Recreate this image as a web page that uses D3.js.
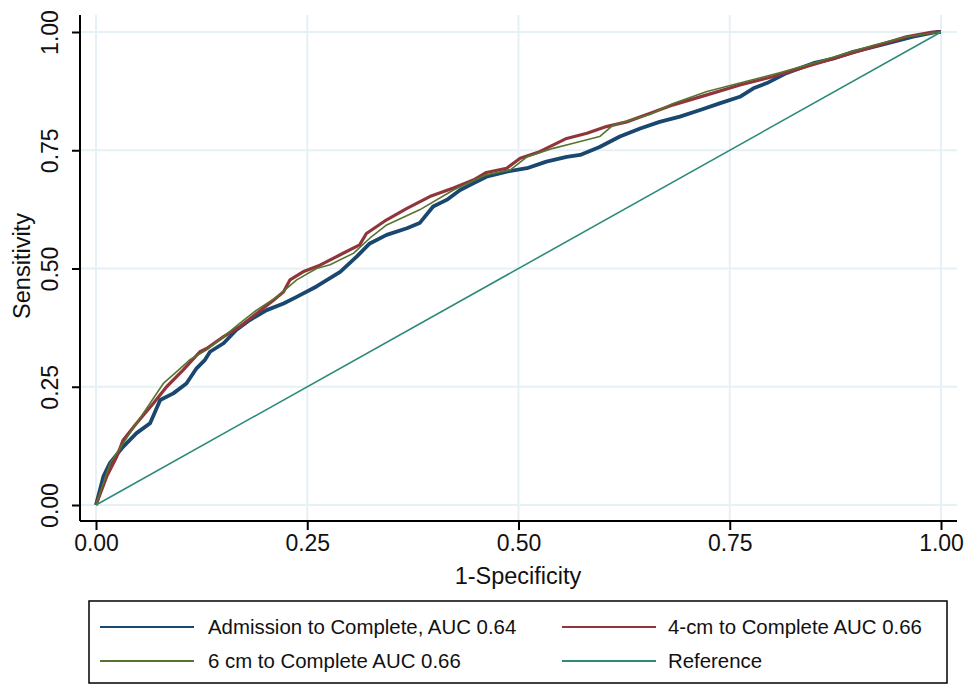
<!DOCTYPE html>
<html>
<head>
<meta charset="utf-8">
<script src="https://cdn.jsdelivr.net/npm/d3@7"></script>
<style>
  html, body { margin: 0; padding: 0; background: #fff; }
  svg { display: block; font-family: "Liberation Sans", Arial, sans-serif; }
  .grid line { stroke: #e7f0f4; stroke-width: 2; }
  .axis path, .axis line { stroke: #000; stroke-width: 2; }
  .axis text { font-size: 23px; fill: #111; }
  .title { font-size: 23.5px; fill: #111; }
  .legend text { font-size: 20.4px; fill: #111; }
</style>
</head>
<body>
<svg id="chart" width="975" height="684"></svg>
<script>
// ROC curves: [1-specificity, sensitivity]
const admission = [
  [0, 0], [0.0087, 0.06], [0.0166, 0.089], [0.032, 0.123], [0.048, 0.152],
  [0.064, 0.173], [0.076, 0.222], [0.0915, 0.236], [0.107, 0.257], [0.119, 0.289],
  [0.129, 0.307], [0.135, 0.324], [0.151, 0.342], [0.166, 0.37], [0.182, 0.391],
  [0.202, 0.412], [0.222, 0.426], [0.2375, 0.44], [0.261, 0.462], [0.289, 0.493],
  [0.3085, 0.525], [0.324, 0.553], [0.344, 0.571], [0.368, 0.585], [0.383, 0.596],
  [0.399, 0.631], [0.415, 0.645], [0.431, 0.666], [0.4465, 0.68], [0.462, 0.694],
  [0.486, 0.705], [0.51, 0.712], [0.533, 0.726], [0.557, 0.736], [0.573, 0.74],
  [0.596, 0.757], [0.62, 0.779], [0.644, 0.796], [0.667, 0.81], [0.691, 0.821],
  [0.715, 0.835], [0.738, 0.849], [0.762, 0.863], [0.778, 0.881], [0.794, 0.892],
  [0.817, 0.913], [0.849, 0.934], [0.873, 0.944], [0.896, 0.958], [0.928, 0.972],
  [0.967, 0.99], [0.995, 1.0], [1, 1]
];
const fourCm = [
  [0, 0], [0.0126, 0.06], [0.0245, 0.102], [0.032, 0.137], [0.048, 0.173],
  [0.068, 0.215], [0.0836, 0.25], [0.103, 0.285], [0.123, 0.324], [0.131, 0.331],
  [0.151, 0.356], [0.17, 0.377], [0.19, 0.405], [0.21, 0.433], [0.222, 0.451],
  [0.2296, 0.476], [0.245, 0.493], [0.265, 0.507], [0.289, 0.529], [0.312, 0.55],
  [0.32, 0.574], [0.344, 0.603], [0.368, 0.627], [0.395, 0.652], [0.423, 0.67],
  [0.4465, 0.687], [0.462, 0.703], [0.486, 0.712], [0.502, 0.733], [0.525, 0.747],
  [0.557, 0.775], [0.581, 0.786], [0.604, 0.8], [0.628, 0.81], [0.656, 0.828],
  [0.683, 0.846], [0.723, 0.867], [0.762, 0.888], [0.8015, 0.906], [0.841, 0.927],
  [0.88, 0.948], [0.92, 0.969], [0.959, 0.99], [0.99, 1.0], [1, 1]
];
const sixCm = [
  [0, 0], [0.0166, 0.088], [0.032, 0.13], [0.048, 0.173], [0.064, 0.215],
  [0.0797, 0.257], [0.0955, 0.282], [0.111, 0.307], [0.131, 0.328], [0.151, 0.356],
  [0.17, 0.384], [0.19, 0.412], [0.214, 0.44], [0.2375, 0.476], [0.261, 0.5],
  [0.277, 0.508], [0.3045, 0.532], [0.324, 0.564], [0.344, 0.592], [0.383, 0.624],
  [0.423, 0.666], [0.462, 0.698], [0.49, 0.708], [0.51, 0.736], [0.541, 0.754],
  [0.565, 0.765], [0.596, 0.779], [0.612, 0.803], [0.656, 0.826], [0.683, 0.849],
  [0.723, 0.874], [0.762, 0.892], [0.809, 0.914], [0.841, 0.93], [0.88, 0.951],
  [0.92, 0.972], [0.959, 0.99], [1, 1]
];
const reference = [[0, 0], [1, 1]];

const ticks = [0, 0.25, 0.5, 0.75, 1];
const tickLabels = ["0.00", "0.25", "0.50", "0.75", "1.00"];

const series = [
  { name: "Admission to Complete, AUC 0.64", data: admission, color: "#1a476f", width: 3.8 },
  { name: "4-cm to Complete AUC 0.66", data: fourCm, color: "#90353b", width: 3.2 },
  { name: "6 cm to Complete AUC 0.66", data: sixCm, color: "#55752f", width: 1.6 },
  { name: "Reference", data: reference, color: "#2e8b7a", width: 1.6 }
];

(function () {
  const svg = d3.select("#chart");

  // plot region (axes frame) and data range inside it
  const frame = { left: 80, right: 957, top: 15, bottom: 521 };
  const x = d3.scaleLinear().domain([0, 1]).range([96, 941]);
  const y = d3.scaleLinear().domain([0, 1]).range([505, 32]);

  // --- Grid ----------------------------------------------------------
  const grid = svg.append("g").attr("class", "grid");
  grid.selectAll("line.h").data(ticks).enter().append("line")
    .attr("class", "h")
    .attr("x1", frame.left).attr("x2", frame.right)
    .attr("y1", (d) => y(d)).attr("y2", (d) => y(d));
  grid.selectAll("line.v").data(ticks).enter().append("line")
    .attr("class", "v")
    .attr("y1", frame.top).attr("y2", frame.bottom)
    .attr("x1", (d) => x(d)).attr("x2", (d) => x(d));

  // --- Curves --------------------------------------------------------
  const line = d3.line().x((d) => x(d[0])).y((d) => y(d[1]));
  svg.append("g").selectAll("path").data(series).enter().append("path")
    .attr("d", (d) => line(d.data))
    .attr("fill", "none")
    .attr("stroke", (d) => d.color)
    .attr("stroke-width", (d) => d.width)
    .attr("stroke-linejoin", "round");

  // --- Axes ----------------------------------------------------------
  const fmt = (d) => tickLabels[ticks.indexOf(d)];
  const yAxis = svg.append("g").attr("class", "axis")
    .attr("transform", `translate(${frame.left},0)`)
    .call(d3.axisLeft(y).tickValues(ticks).tickFormat(fmt).tickSize(8).tickSizeOuter(0));
  yAxis.select(".domain").attr("d", `M0,${frame.top}V${frame.bottom}`);
  yAxis.selectAll(".tick text")
    .attr("transform", "rotate(-90)")
    .attr("x", 0).attr("y", -22)
    .attr("dy", 0)
    .attr("text-anchor", "middle");

  const xAxis = svg.append("g").attr("class", "axis")
    .attr("transform", `translate(0,${frame.bottom})`)
    .call(d3.axisBottom(x).tickValues(ticks).tickFormat(fmt).tickSize(9).tickSizeOuter(0));
  xAxis.select(".domain").attr("d", `M${frame.left},0H${frame.right}`);
  xAxis.selectAll(".tick text").attr("y", 14).attr("dy", "0.71em");

  svg.append("text").attr("class", "title")
    .attr("x", 518).attr("y", 584)
    .attr("text-anchor", "middle")
    .text("1-Specificity");
  svg.append("text").attr("class", "title")
    .attr("transform", "translate(30,266) rotate(-90)")
    .attr("text-anchor", "middle")
    .text("Sensitivity");

  // --- Legend --------------------------------------------------------
  const legend = svg.append("g").attr("class", "legend");
  legend.append("rect")
    .attr("x", 89).attr("y", 601).attr("width", 858).attr("height", 82)
    .attr("fill", "#fff").attr("stroke", "#000").attr("stroke-width", 1.5);
  const cols = [100, 562];
  const rows = [627, 661];
  const items = legend.selectAll("g.item").data(series).enter().append("g")
    .attr("class", "item")
    .attr("transform", (d, i) => `translate(${cols[i % 2]},${rows[Math.floor(i / 2)]})`);
  items.append("line")
    .attr("x1", 0).attr("x2", 94)
    .attr("stroke", (d) => d.color).attr("stroke-width", 2);
  items.append("text")
    .attr("x", (d, i) => (i % 2 === 0 ? 108 : 106))
    .attr("dy", "0.35em")
    .text((d) => d.name);
})();
</script>
</body>
</html>
